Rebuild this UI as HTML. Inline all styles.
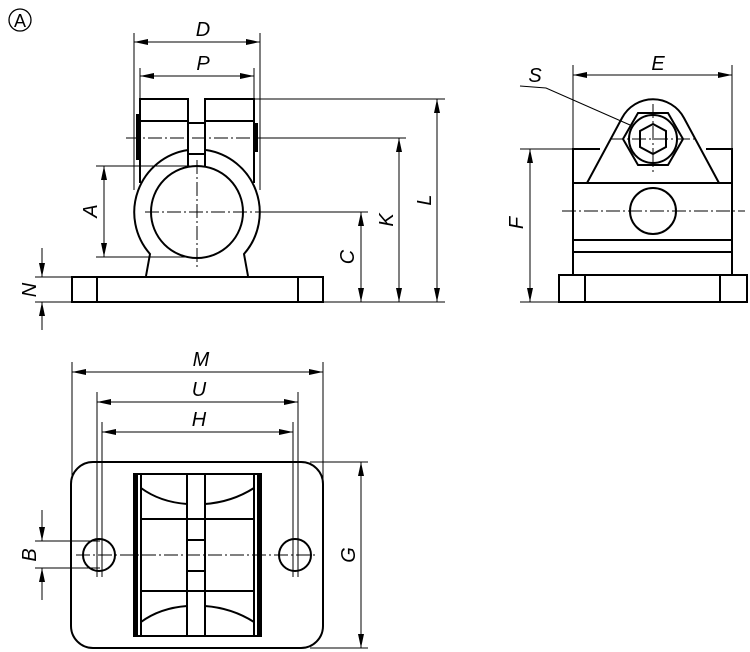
<!DOCTYPE html>
<html><head><meta charset="utf-8"><style>
html,body{margin:0;padding:0;background:#fff;}
svg{display:block}
text{font-family:"Liberation Sans",sans-serif;font-style:italic;font-size:20px;fill:#000}
</style></head><body>
<svg width="750" height="652" viewBox="0 0 750 652" xmlns="http://www.w3.org/2000/svg">
<defs>
<marker id="a" viewBox="0 0 14 6" refX="14" refY="3" markerWidth="14" markerHeight="6" markerUnits="userSpaceOnUse" orient="auto-start-reverse"><path d="M0,0 L14,3 L0,6z" fill="#000"/></marker>
</defs>
<circle cx="20" cy="20" r="11" fill="none" stroke="#000" stroke-width="1.3"/>
<text x="20" y="27" text-anchor="middle" style="font-style:normal;font-size:18px">A</text>

<g fill="none" stroke="#000" stroke-width="1">
<line x1="134" y1="33" x2="134" y2="190"/><line x1="260" y1="33" x2="260" y2="190"/>
<line x1="134" y1="42" x2="260" y2="42" marker-start="url(#a)" marker-end="url(#a)"/>
<line x1="140" y1="68" x2="140" y2="99"/><line x1="254" y1="68" x2="254" y2="99"/>
<line x1="140" y1="76" x2="254" y2="76" marker-start="url(#a)" marker-end="url(#a)"/>
<line x1="254" y1="99" x2="445" y2="99"/>
<line x1="260" y1="138" x2="406" y2="138"/>
<line x1="260" y1="212" x2="368" y2="212"/>
<line x1="72" y1="302" x2="445" y2="302"/>
<line x1="437" y1="99" x2="437" y2="302" marker-start="url(#a)" marker-end="url(#a)"/>
<line x1="399" y1="138" x2="399" y2="302" marker-start="url(#a)" marker-end="url(#a)"/>
<line x1="361" y1="212" x2="361" y2="302" marker-start="url(#a)" marker-end="url(#a)"/>
<line x1="96" y1="166" x2="190" y2="166"/><line x1="96" y1="257" x2="190" y2="257"/>
<line x1="104" y1="166" x2="104" y2="257" marker-start="url(#a)" marker-end="url(#a)"/>
<line x1="35" y1="277" x2="72" y2="277"/><line x1="35" y1="302" x2="72" y2="302"/>
<line x1="42" y1="248" x2="42" y2="277" marker-end="url(#a)"/>
<line x1="42" y1="330" x2="42" y2="302" marker-end="url(#a)"/>
<line x1="126" y1="138" x2="270" y2="138" stroke-dasharray="14,3,2,3"/>
<line x1="145" y1="212" x2="260" y2="212" stroke-dasharray="14,3,2,3"/>
<line x1="197" y1="160" x2="197" y2="268" stroke-dasharray="14,3,2,3"/>
</g>
<g fill="none" stroke="#000" stroke-width="2">
<rect x="72" y="277" width="251" height="25"/>
<line x1="97" y1="277" x2="97" y2="302"/><line x1="298" y1="277" x2="298" y2="302"/>
<path d="M140,183 L140,99 L188,99 L188,150 M205,150 L205,99 L254,99 L254,183"/>
<line x1="140" y1="121" x2="188" y2="121"/><line x1="205" y1="121" x2="254" y2="121"/>
<rect x="188" y="123" width="17" height="31"/>
<path d="M188,150 A63,63 0 0 0 150,254 L146,276"/>
<path d="M206,150 A63,63 0 0 1 244,254 L248,276"/>
<line x1="188" y1="150" x2="188" y2="166"/><line x1="205" y1="150" x2="205" y2="166"/>
<circle cx="197" cy="212" r="46"/>
</g>
<rect x="136" y="114" width="3" height="46" fill="#000"/>
<rect x="255" y="123" width="3" height="29" fill="#000"/>
<text x="203" y="36" text-anchor="middle">D</text>
<text x="203" y="70" text-anchor="middle">P</text>
<text transform="translate(97,211) rotate(-90)" text-anchor="middle">A</text>
<text transform="translate(354,257) rotate(-90)" text-anchor="middle">C</text>
<text transform="translate(393,220) rotate(-90)" text-anchor="middle">K</text>
<text transform="translate(431,200) rotate(-90)" text-anchor="middle">L</text>
<text transform="translate(36,290) rotate(-90)" text-anchor="middle">N</text>

<g fill="none" stroke="#000" stroke-width="1">
<line x1="573" y1="65" x2="573" y2="149"/><line x1="732" y1="65" x2="732" y2="149"/>
<line x1="573" y1="75" x2="732" y2="75" marker-start="url(#a)" marker-end="url(#a)"/>
<line x1="520" y1="149" x2="573" y2="149"/><line x1="520" y1="302" x2="559" y2="302"/>
<line x1="530" y1="149" x2="530" y2="302" marker-start="url(#a)" marker-end="url(#a)"/>
<path d="M520,86 L546,88 L630,125"/>
<line x1="562" y1="211" x2="745" y2="211" stroke-dasharray="14,3,2,3"/>
<line x1="610" y1="139" x2="696" y2="139" stroke-dasharray="14,3,2,3"/>
<line x1="653" y1="104" x2="653" y2="172" stroke-dasharray="14,3,2,3"/>
</g>
<g fill="none" stroke="#000" stroke-width="2">
<path d="M573,275 L573,149 L600,149 M706,149 L732,149 L732,275"/>
<line x1="573" y1="183" x2="732" y2="183"/>
<line x1="573" y1="240" x2="732" y2="240"/>
<line x1="573" y1="252" x2="732" y2="252"/>
<rect x="559" y="275" width="188" height="27"/>
<line x1="585" y1="275" x2="585" y2="302"/><line x1="720" y1="275" x2="720" y2="302"/>
<path d="M587,183 L622,118 A35,35 0 0 1 684,118 L719,183"/>
<polygon points="623,139 638,113 668,113 683,139 668,165 638,165"/>
<circle cx="653" cy="139" r="24"/>
<polygon points="653,124 666,131 666,147 653,154 640,147 640,131"/>
<circle cx="653" cy="211" r="23"/>
</g>
<text x="658" y="70" text-anchor="middle">E</text>
<text x="535" y="82" text-anchor="middle">S</text>
<text transform="translate(523,223) rotate(-90)" text-anchor="middle">F</text>

<g fill="none" stroke="#000" stroke-width="1">
<line x1="72" y1="362" x2="72" y2="480"/><line x1="323" y1="362" x2="323" y2="480"/>
<line x1="72" y1="372" x2="323" y2="372" marker-start="url(#a)" marker-end="url(#a)"/>
<line x1="97" y1="392" x2="97" y2="577"/><line x1="298" y1="392" x2="298" y2="577"/>
<line x1="97" y1="402" x2="298" y2="402" marker-start="url(#a)" marker-end="url(#a)"/>
<line x1="102" y1="422" x2="102" y2="577"/><line x1="293" y1="422" x2="293" y2="577"/>
<line x1="102" y1="432" x2="293" y2="432" marker-start="url(#a)" marker-end="url(#a)"/>
<line x1="310" y1="462" x2="368" y2="462"/><line x1="310" y1="648" x2="368" y2="648"/>
<line x1="361" y1="462" x2="361" y2="648" marker-start="url(#a)" marker-end="url(#a)"/>
<line x1="35" y1="541" x2="100" y2="541"/><line x1="35" y1="568" x2="100" y2="568"/>
<line x1="42" y1="510" x2="42" y2="541" marker-end="url(#a)"/>
<line x1="42" y1="600" x2="42" y2="568" marker-end="url(#a)"/>
<line x1="76" y1="555" x2="318" y2="555" stroke-dasharray="14,3,2,3"/>
</g>
<g fill="none" stroke="#000" stroke-width="2">
<rect x="71" y="462" width="252" height="186" rx="22"/>
<rect x="134" y="474" width="127" height="162"/>
<rect x="187" y="474" width="18" height="162"/>
<line x1="141" y1="474" x2="141" y2="636"/><line x1="254" y1="474" x2="254" y2="636"/>
<line x1="141" y1="519" x2="254" y2="519"/>
<line x1="141" y1="591" x2="254" y2="591"/>
<line x1="187" y1="540" x2="205" y2="540"/><line x1="187" y1="571" x2="205" y2="571"/>
<path d="M141,488 Q160,502 187,504 M205,504 Q232,502 254,488"/>
<path d="M141,622 Q160,608 187,606 M205,606 Q232,608 254,622"/>
<circle cx="99" cy="555" r="16"/>
<circle cx="295" cy="555" r="16"/>
</g>
<rect x="134" y="474" width="4" height="162" fill="#000"/>
<rect x="257" y="474" width="4" height="162" fill="#000"/>
<text x="201" y="366" text-anchor="middle">M</text>
<text x="199" y="396" text-anchor="middle">U</text>
<text x="199" y="426" text-anchor="middle">H</text>
<text transform="translate(355,555) rotate(-90)" text-anchor="middle">G</text>
<text transform="translate(36,555) rotate(-90)" text-anchor="middle">B</text>
</svg>
</body></html>
